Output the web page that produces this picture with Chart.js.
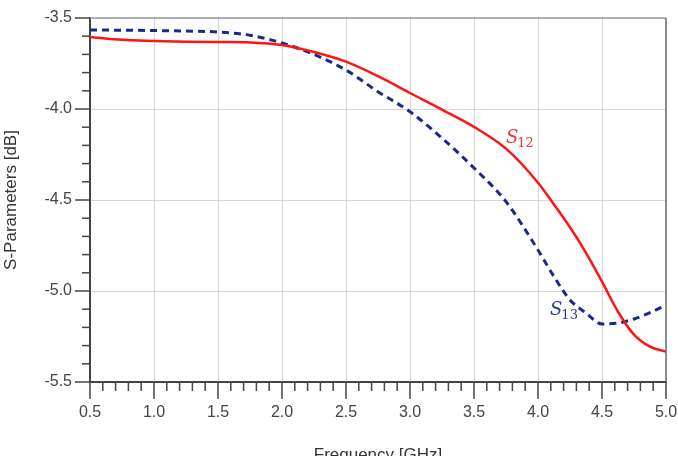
<html>
<head>
<script src="https://cdn.jsdelivr.net/npm/chart.js@4.4.1/dist/chart.umd.min.js"></script>
<style>
  body { margin: 0; background: #fff; }
  canvas { display: block; }
</style>
</head>
<body>
<canvas id="myChart" width="678" height="456"></canvas>
<script>
  // frequency points in GHz
  var freq = [0.5, 0.75, 1.0, 1.25, 1.5, 1.75, 2.0, 2.25, 2.5, 2.75, 3.0, 3.25, 3.5, 3.75,
              4.0, 4.125, 4.25, 4.375, 4.5, 4.625, 4.75, 4.875, 5.0];
  // S12 (dB)
  var s12 = [-3.604, -3.620, -3.626, -3.630, -3.632, -3.634, -3.648, -3.687, -3.740, -3.820, -3.912, -4.003, -4.098, -4.218,
             -4.405, -4.525, -4.650, -4.790, -4.949, -5.114, -5.240, -5.306, -5.333];
  // S13 (dB)
  var s13 = [-3.566, -3.567, -3.569, -3.572, -3.577, -3.595, -3.637, -3.700, -3.786, -3.905, -4.015, -4.160, -4.324, -4.509,
             -4.775, -4.921, -5.049, -5.121, -5.181, -5.176, -5.154, -5.119, -5.077];

  var xTicks = [0.5, 1.0, 1.5, 2.0, 2.5, 3.0, 3.5, 4.0, 4.5, 5.0];
  var yTicks = [-5.5, -5.0, -4.5, -4.0, -3.5];

  var tickFont = { family: "'Liberation Sans', Arial, sans-serif", size: 16 };

  function toPts(ys) {
    return freq.map(function (f, i) { return { x: f, y: ys[i] }; });
  }

  // tick marks (major + minor), frame and curve labels
  var decor = {
    id: 'decor',
    afterDraw: function (chart) {
      var ctx = chart.ctx, xs = chart.scales.x, ys = chart.scales.y, a = chart.chartArea;
      ctx.save();
      ctx.strokeStyle = '#9a9a9a';
      ctx.lineWidth = 1.5;
      ctx.beginPath();
      ctx.moveTo(a.left, a.top); ctx.lineTo(a.right, a.top);
      ctx.stroke();
      ctx.strokeStyle = '#6e6e6e';
      ctx.beginPath();
      ctx.moveTo(a.right, a.top); ctx.lineTo(a.right, a.bottom);
      ctx.stroke();

      ctx.strokeStyle = '#444';
      ctx.lineWidth = 1.5;
      for (var i = 5; i <= 50; i++) {
        var px = xs.getPixelForValue(i / 10);
        var len = i % 5 === 0 ? 17 : 9;
        ctx.beginPath();
        ctx.moveTo(px, a.bottom); ctx.lineTo(px, a.bottom + len);
        ctx.stroke();
      }
      for (var j = -55; j <= -35; j++) {
        var py = ys.getPixelForValue(j / 10);
        var l = j % 5 === 0 ? 15 : 8;
        ctx.beginPath();
        ctx.moveTo(a.left - l, py); ctx.lineTo(a.left, py);
        ctx.stroke();
      }

      function label(f, v, sub, color) {
        var x = xs.getPixelForValue(f), y = ys.getPixelForValue(v);
        ctx.fillStyle = color;
        ctx.textBaseline = 'alphabetic';
        ctx.textAlign = 'left';
        ctx.font = "italic 18px 'DejaVu Serif', serif";
        ctx.fillText('S', x, y);
        var w = ctx.measureText('S').width;
        ctx.font = "13px 'DejaVu Serif', serif";
        ctx.fillText(sub, x + w - 1, y + 4);
      }
      label(3.75, -4.187, '12', '#e8383d');
      label(4.094, -5.132, '13', '#2b3f8a');
      ctx.restore();
    }
  };

  var ctx = document.getElementById('myChart').getContext('2d');
  var chart = new Chart(ctx, {
    type: 'line',
    data: {
      datasets: [
        {
          label: 'S12',
          data: toPts(s12),
          borderColor: '#ff1414',
          borderWidth: 2.5,
          pointRadius: 0,
          fill: false,
          cubicInterpolationMode: 'monotone'
        },
        {
          label: 'S13',
          data: toPts(s13),
          borderColor: '#1b2a8a',
          borderWidth: 3,
          borderDash: [7, 5],
          pointRadius: 0,
          fill: false,
          cubicInterpolationMode: 'monotone'
        }
      ]
    },
    options: {
      responsive: false,
      animation: false,
      layout: { padding: { left: 0, top: 18, right: 12, bottom: 0 } },
      plugins: { legend: { display: false }, tooltip: { enabled: false } },
      scales: {
        x: {
          type: 'linear',
          min: 0.5,
          max: 5.0,
          afterBuildTicks: function (s) { s.ticks = xTicks.map(function (v) { return { value: v }; }); },
          afterFit: function (s) { s.height = 74; s.paddingLeft = 0; s.paddingRight = 0; },
          ticks: {
            padding: 21,
            color: '#444',
            font: tickFont,
            maxRotation: 0,
            callback: function (v) { return Number(v).toFixed(1); }
          },
          grid: { color: '#d6d6d6', lineWidth: 1, drawTicks: false },
          border: { color: '#444', width: 2 },
          title: {
            display: true,
            text: 'Frequency [GHz]',
            color: '#333',
            font: { family: "'Liberation Sans', Arial, sans-serif", size: 17 },
            padding: { top: 0, bottom: -10 }
          }
        },
        y: {
          min: -5.5,
          max: -3.5,
          afterBuildTicks: function (s) { s.ticks = yTicks.map(function (v) { return { value: v }; }); },
          afterFit: function (s) { s.width = 90; s.paddingTop = 0; s.paddingBottom = 0; },
          ticks: {
            padding: 18,
            color: '#444',
            font: tickFont,
            callback: function (v) { return Number(v).toFixed(1); }
          },
          grid: { color: '#d6d6d6', lineWidth: 1, drawTicks: false },
          border: { color: '#444', width: 2 },
          title: {
            display: true,
            text: 'S-Parameters [dB]',
            color: '#333',
            font: { family: "'Liberation Sans', Arial, sans-serif", size: 17 },
            padding: { top: 1, bottom: 0 }
          }
        }
      }
    },
    plugins: [decor]
  });
</script>
</body>
</html>
